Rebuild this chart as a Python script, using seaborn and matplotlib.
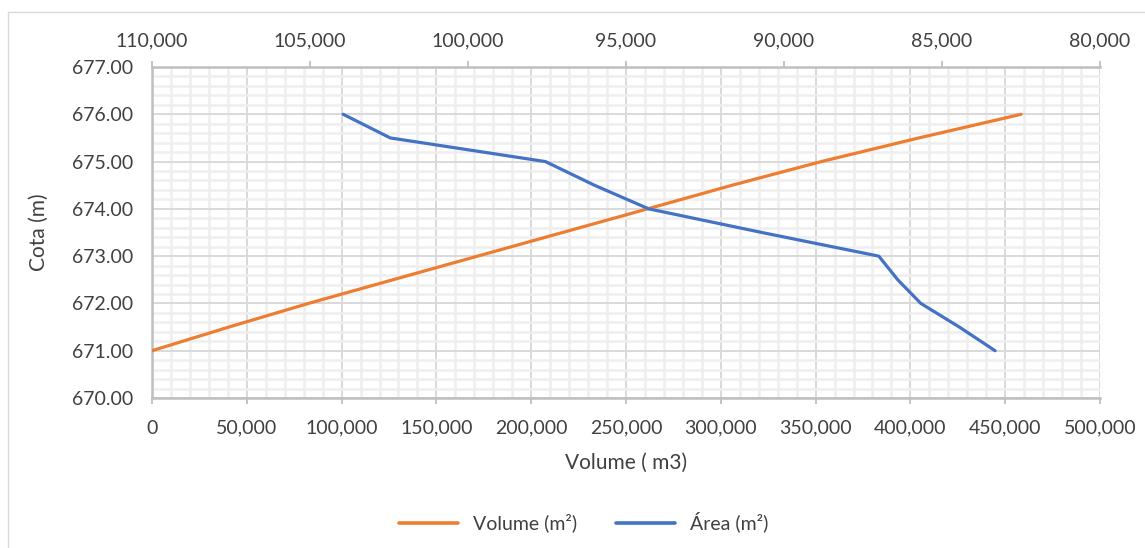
import matplotlib
matplotlib.use("Agg")
import matplotlib.pyplot as plt
import matplotlib.ticker as mticker
from matplotlib.patches import Rectangle
from matplotlib.lines import Line2D
import seaborn as sns
import pandas as pd

# Elevation-volume-area table of the reservoir
cota = [671.0, 671.5, 672.0, 672.5, 673.0, 673.5, 674.0, 674.5, 675.0, 675.5, 676.0]
volume = [0, 40500, 82500, 127000, 171700, 216500, 261400, 306000, 353000, 404500, 458400]
area = [83320, 84450, 85670, 86400, 87000, 90700, 94280, 96000, 97550, 102460, 103950]

df = pd.DataFrame({"cota": cota, "volume": volume, "area": area})

sns.set_theme(style="white")
plt.rcParams["font.family"] = ["Lato", "DejaVu Sans"]

ORANGE = "#ED7D31"
BLUE = "#4472C4"
TXT = "#404040"
AXIS = "#BFBFBF"

W, H = 1145, 548
fig = plt.figure(figsize=(W / 100, H / 100), dpi=100)
fig.patch.set_facecolor("white")

# chart-area frame
fig.patches.append(Rectangle((8 / W, -0.1), 1.2, 1 - 12 / H + 0.1,
                             transform=fig.transFigure, fill=False,
                             edgecolor="#D9D9D9", linewidth=1.0))

ax = fig.add_axes([152 / W, 1 - 398 / H, (1100 - 152) / W, (398 - 67) / H])

sns.lineplot(data=df, x="volume", y="cota", ax=ax, color=ORANGE,
             linewidth=2.3, sort=False, estimator=None, zorder=4)

ax.set_xlim(0, 500000)
ax.set_ylim(670, 677)
ax.xaxis.set_major_locator(mticker.MultipleLocator(50000))
ax.xaxis.set_minor_locator(mticker.MultipleLocator(10000))
ax.yaxis.set_major_locator(mticker.MultipleLocator(1))
ax.yaxis.set_minor_locator(mticker.MultipleLocator(0.2))
ax.xaxis.set_major_formatter(mticker.FuncFormatter(lambda v, p: f"{v:,.0f}"))
ax.yaxis.set_major_formatter(mticker.FuncFormatter(lambda v, p: f"{v:.2f}"))

ax.grid(which="minor", color="#EEEEEE", linewidth=1.8, zorder=0)
ax.grid(which="major", color="#D9D9D9", linewidth=1.4, zorder=1)
ax.set_axisbelow(True)

for side in ["top", "right"]:
    ax.spines[side].set_visible(False)
for side in ["left", "bottom"]:
    ax.spines[side].set_color(AXIS)
    ax.spines[side].set_linewidth(1.8)

ax.tick_params(axis="both", which="major", direction="out", length=4.5,
               width=1.3, color=AXIS, labelsize=14, labelcolor=TXT)
ax.tick_params(axis="x", which="major", pad=11)
ax.tick_params(axis="y", which="major", pad=9)
ax.tick_params(which="minor", length=0)

ax.set_xlabel("Volume ( m3)", fontsize=15, color=TXT, labelpad=12)
ax.set_ylabel("Cota (m)", fontsize=15, color=TXT, labelpad=17)

# secondary (top) axis for the surface area, reversed
ax2 = ax.twiny()
sns.lineplot(data=df, x="area", y="cota", ax=ax2, color=BLUE,
             linewidth=2.3, sort=False, estimator=None, zorder=4)
ax2.set_xlim(110000, 80000)
ax2.set_ylim(670, 677)
ax2.xaxis.set_major_locator(mticker.MultipleLocator(5000))
ax2.xaxis.set_major_formatter(mticker.FuncFormatter(lambda v, p: f"{v:,.0f}"))
ax2.set_xlabel("")
ax2.set_ylabel("")
ax2.grid(False)
for side in ["left", "right", "bottom"]:
    ax2.spines[side].set_visible(False)
ax2.spines["top"].set_color(AXIS)
ax2.spines["top"].set_linewidth(1.8)
ax2.tick_params(axis="x", which="major", direction="out", length=4.5, width=1.3,
                color=AXIS, labelsize=14, labelcolor=TXT, pad=8)

handles = [Line2D([0], [0], color=ORANGE, linewidth=2.6),
           Line2D([0], [0], color=BLUE, linewidth=2.6)]
fig.legend(handles, ["Volume (m²)", "Área (m²)"], loc="center",
           bbox_to_anchor=(584 / W, 1 - 522 / H), ncol=2, frameon=False,
           fontsize=14, handlelength=3.0, columnspacing=2.0,
           labelcolor=TXT)

fig.savefig("out.png", dpi=100, facecolor="white")
